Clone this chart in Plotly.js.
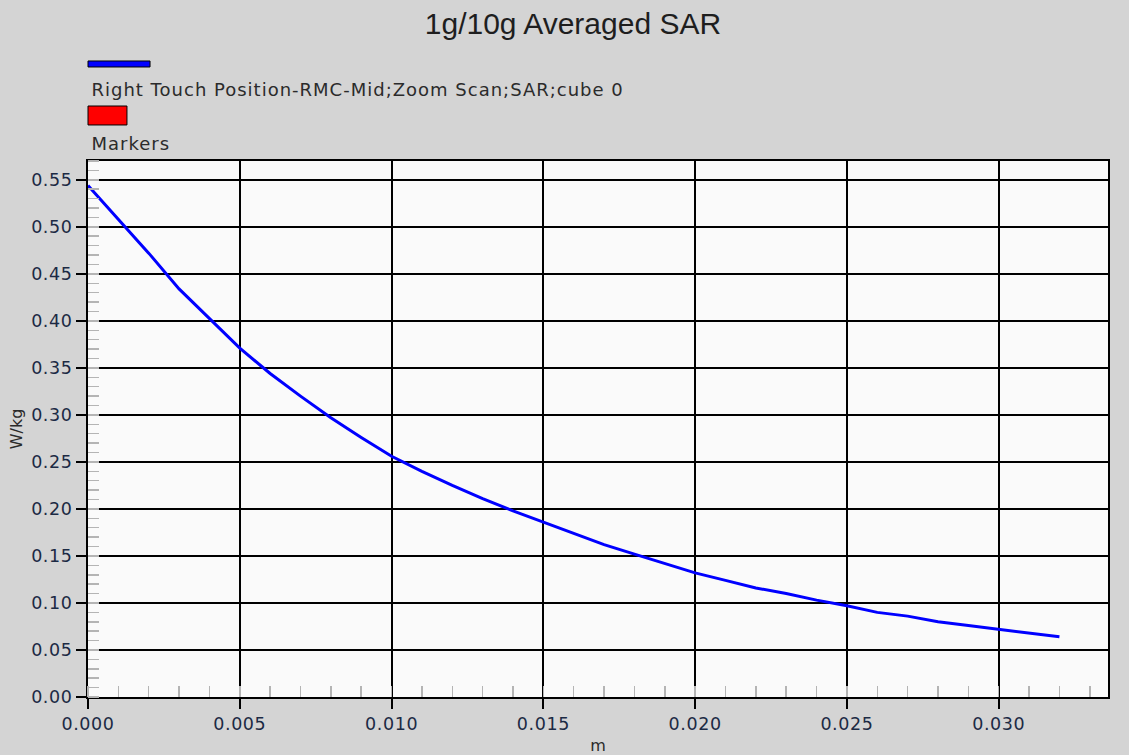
<!DOCTYPE html>
<html>
<head>
<meta charset="utf-8">
<script src="https://cdn.plot.ly/plotly-3.0.1.min.js"></script>
<style>
html,body{margin:0;padding:0;background:#d4d4d4;}
#chart{width:1129px;height:755px;}
#chart .annotation-text{letter-spacing:1px;}
#chart .xtick text,#chart .ytick text{letter-spacing:0.6px;}
</style>
</head>
<body>
<div id="chart"></div>
<script>
// Distance (m)
const distance = [0.000,0.001,0.002,0.003,0.004,0.005,0.006,0.007,0.008,0.009,0.010,0.011,0.012,0.013,0.014,0.015,0.016,0.017,0.018,0.019,0.020,0.021,0.022,0.023,0.024,0.025,0.026,0.027,0.028,0.029,0.030,0.031,0.032];
// SAR (W/kg)
const sar = [0.544,0.508,0.472,0.434,0.402,0.371,0.344,0.320,0.297,0.276,0.256,0.240,0.225,0.211,0.198,0.186,0.174,0.162,0.152,0.142,0.132,0.124,0.116,0.110,0.103,0.097,0.090,0.086,0.080,0.076,0.072,0.068,0.064];
const seriesName = "Right Touch Position-RMC-Mid;Zoom Scan;SAR;cube 0";
const markersName = "Markers";
const chartTitle = "1g/10g Averaged SAR";
const xTitle = "m";
const yTitle = "W/kg";

const SANS = "'Liberation Sans', Arial, sans-serif";
const WIDE = "'DejaVu Sans', Verdana, sans-serif";
const trace = {
  x: distance, y: sar, type: 'scatter', mode: 'lines', name: seriesName,
  line: {color: '#0000ff', width: 3}, showlegend: false, hoverinfo: 'x+y'
};
const axisCommon = {
  ticks: 'outside', ticklen: 10, tickwidth: 2, tickcolor: '#000',
  showgrid: true, gridcolor: '#000', gridwidth: 2, zeroline: false,
  showline: true, mirror: true, linecolor: '#000', linewidth: 2,
  tickfont: {family: WIDE, size: 17.5, color: '#1c2a44'}
};
const layout = {
  width: 1129, height: 755,
  paper_bgcolor: '#d4d4d4', plot_bgcolor: '#fafafa',
  margin: {l: 88, r: 21, t: 161, b: 58},
  font: {family: WIDE, size: 17, color: '#2a2a2a'},
  title: {text: chartTitle, xref: 'container', x: 0.5075, xanchor: 'center',
          yref: 'container', y: 0.969, yanchor: 'middle',
          font: {family: SANS, size: 30, color: '#1e1e1e'}},
  xaxis: Object.assign({}, axisCommon, {
    range: [0, 0.0336], tick0: 0, dtick: 0.005, tickformat: '.3f',
    minor: {dtick: 0.001, ticks: 'inside', ticklen: 11, tickcolor: '#b4b4b4', tickwidth: 1.5, showgrid: false},
    title: {text: xTitle, standoff: 14, font: {family: WIDE, size: 16, color: '#2a2a2a'}}
  }),
  yaxis: Object.assign({}, axisCommon, {
    range: [0, 0.57], tick0: 0, dtick: 0.05, tickformat: '.2f',
    minor: {dtick: 0.01, ticks: 'inside', ticklen: 11, tickcolor: '#b4b4b4', tickwidth: 1.5, showgrid: false},
    title: {text: yTitle, standoff: 7, font: {family: WIDE, size: 16, color: '#2a2a2a'}}
  }),
  shapes: [
    {type: 'rect', xref: 'paper', yref: 'paper', x0: 0, x1: 0.0608, y0: 1.1754, y1: 1.1866,
     fillcolor: '#0000ff', line: {color: '#000', width: 1}},
    {type: 'rect', xref: 'paper', yref: 'paper', x0: 0, x1: 0.0382, y0: 1.0672, y1: 1.1026,
     fillcolor: '#ff0000', line: {color: '#000', width: 1}}
  ],
  annotations: [
    {xref: 'paper', yref: 'paper', x: 0.0255, y: 1.1325, xanchor: 'left', yanchor: 'middle', showarrow: false,
     text: seriesName, font: {family: WIDE, size: 18, color: '#2b2b2b'}},
    {xref: 'paper', yref: 'paper', x: 0.0049, y: 1.0327, xanchor: 'left', yanchor: 'middle', showarrow: false,
     text: markersName, font: {family: WIDE, size: 18, color: '#2b2b2b'}}
  ]
};
Plotly.newPlot('chart', [trace], layout, {displayModeBar: false, staticPlot: true});
</script>
</body>
</html>
